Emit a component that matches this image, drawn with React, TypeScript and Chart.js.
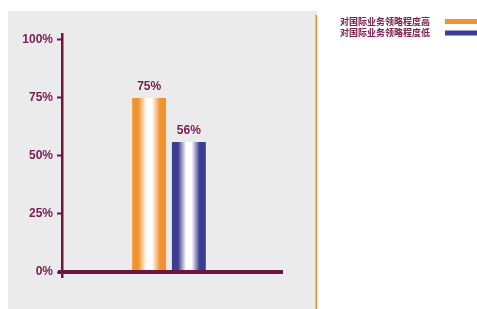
import React, { useEffect, useRef } from "react";
import { Chart, registerables } from "chart.js";

Chart.register(...registerables);

const categories = [""];
const seriesLabels = ["对国际业务领略程度高", "对国际业务领略程度低"];
const highValues = [75];
const lowValues = [56];
const yTicks = [0, 25, 50, 75, 100];

const MAROON = "#6f1542";
const LABEL = "#7a2050";
const ORANGE = "#f0922e";
const BLUE = "#3b3d8e";

function barGradient(ctx: CanvasRenderingContext2D, x0: number, x1: number, c: string) {
  const g = ctx.createLinearGradient(x0, 0, x1, 0);
  g.addColorStop(0, c);
  g.addColorStop(0.18, c);
  g.addColorStop(0.42, "#ffffff");
  g.addColorStop(0.58, "#ffffff");
  g.addColorStop(0.82, c);
  g.addColorStop(1, c);
  return g;
}

const decor = {
  id: "decor",
  beforeDraw(chart: any) {
    const ctx = chart.ctx;
    ctx.save();
    ctx.fillStyle = "#ebebeb";
    ctx.fillRect(8, 11, 309, 298);
    ctx.fillStyle = "#e8892b";
    ctx.fillRect(315.5, 15, 1.6, 294);
    // legend
    const colors = [ORANGE, BLUE];
    ctx.font = "bold 9px 'Noto Sans CJK SC'";
    ctx.textBaseline = "middle";
    ctx.textAlign = "left";
    seriesLabels.forEach((t, i) => {
      const y = 21.5 + i * 11.5;
      ctx.fillStyle = LABEL;
      ctx.fillText(t, 340, y);
      ctx.fillStyle = colors[i];
      ctx.fillRect(445, y - 2.5, 32, 5);
    });
    ctx.restore();
  },
  beforeDatasetsDraw(chart: any) {
    const ctx = chart.ctx;
    const cols = [ORANGE, BLUE];
    chart.data.datasets.forEach((_: any, di: number) => {
      const meta = chart.getDatasetMeta(di);
      meta.data.forEach((el: any) => {
        const w = el.width;
        el.options.backgroundColor = barGradient(ctx, el.x - w / 2, el.x + w / 2, cols[di]);
      });
    });
  },
  afterDatasetsDraw(chart: any) {
    const ctx = chart.ctx;
    const y = chart.scales.y;
    const y0 = y.getPixelForValue(0);
    const left = chart.chartArea.left;
    ctx.save();
    ctx.fillStyle = MAROON;
    // y axis
    ctx.fillRect(left - 1, chart.chartArea.top, 2.5, y0 - chart.chartArea.top + 6);
    // x axis
    ctx.fillRect(left - 4, y0 - 2, 225, 4);
    // value labels
    ctx.font = "bold 12px 'Liberation Sans', Arial, sans-serif";
    ctx.fillStyle = LABEL;
    ctx.textAlign = "center";
    ctx.textBaseline = "bottom";
    chart.data.datasets.forEach((ds: any, di: number) => {
      const meta = chart.getDatasetMeta(di);
      meta.data.forEach((el: any, i: number) => {
        ctx.fillText(ds.data[i] + "%", el.x, el.y - 5);
      });
    });
    ctx.restore();
  },
};

export default function App() {
  const ref = useRef<HTMLCanvasElement>(null);
  useEffect(() => {
    if (!ref.current) return;
    const chart = new Chart(ref.current, {
      type: "bar",
      data: {
        labels: categories,
        datasets: [
          { label: seriesLabels[0], data: highValues, backgroundColor: ORANGE, borderWidth: 0 },
          { label: seriesLabels[1], data: lowValues, backgroundColor: BLUE, borderWidth: 0 },
        ],
      },
      options: {
        responsive: false,
        animation: false,
        events: [],
        layout: { padding: { left: 0, top: 33, right: 201, bottom: 37 } },
        categoryPercentage: 0.371,
        barPercentage: 0.854,
        plugins: { legend: { display: false }, tooltip: { enabled: false } },
        scales: {
          x: { display: false },
          y: {
            min: 0,
            max: 103,
            afterBuildTicks: (s: any) => {
              s.ticks = yTicks.map((v) => ({ value: v }));
            },
            afterFit: (s: any) => {
              s.width = 62;
            },
            border: { display: false },
            grid: {
              drawOnChartArea: false,
              drawTicks: true,
              tickLength: 5,
              tickColor: MAROON,
              tickWidth: 2,
            },
            ticks: {
              padding: 4,
              color: LABEL,
              font: { family: "'Liberation Sans', Arial, sans-serif", size: 12, weight: "bold" },
              callback: (v: any) => v + "%",
            },
          },
        },
      } as any,
      plugins: [decor],
    });
    return () => chart.destroy();
  }, []);
  return (
    <canvas
      ref={ref}
      width={477}
      height={309}
      style={{ position: "absolute", left: 0, top: 0, width: 477, height: 309 }}
    />
  );
}
